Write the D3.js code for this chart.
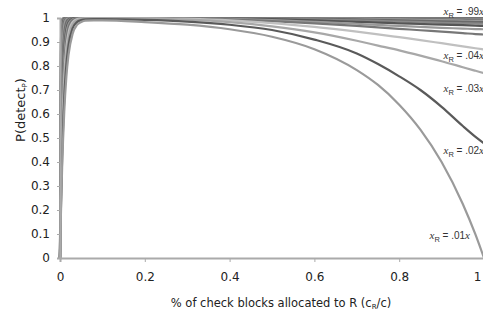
<!doctype html>
<html lang='en'>
<head>
<meta charset='utf-8'>
<title>P(detect) vs check block allocation</title>
<script src='https://cdn.jsdelivr.net/npm/d3@7'></script>
<style>
    body { margin: 0; background: white; }
    .tick text { font-family: 'DejaVu Sans', Verdana, sans-serif; font-size: 12px; fill: #222; }
    .axis path, .axis line { stroke: #aaa; }
    .title { font-family: 'DejaVu Sans', Verdana, sans-serif; font-size: 11.5px; fill: #222; }
    .lbl { font-size: 10px; fill: #333; }
    .curve { fill: none; stroke-width: 2.2; }
</style>
</head>
<body>
<svg id='chart' width='483' height='320'></svg>
<script>
// fraction of check blocks given to R (shared x grid for every curve)
const shareR = [0, 0.002, 0.005, 0.01, 0.015, 0.02, 0.03, 0.04, 0.05, 0.06, 0.08, 0.1,
    0.2, 0.3, 0.4, 0.5, 0.6, 0.7, 0.75, 0.8, 0.85, 0.9, 0.95, 0.98, 1];

// one series per x_R value
const xr01 = [0, 0.172, 0.376, 0.609, 0.754, 0.845, 0.936, 0.971, 0.983, 0.989, 0.990, 0.990,
    0.983, 0.972, 0.953, 0.922, 0.870, 0.783, 0.721, 0.639, 0.535, 0.400, 0.225, 0.097, 0];
const xr02 = [0, 0.196, 0.421, 0.664, 0.804, 0.885, 0.958, 0.983, 0.991, 0.994, 0.995, 0.995,
    0.992, 0.985, 0.972, 0.950, 0.910, 0.852, 0.808, 0.757, 0.700, 0.630, 0.550, 0.505, 0.478];
const xr03 = [0, 0.221, 0.464, 0.712, 0.845, 0.916, 0.974, 0.991, 0.996, 0.998, 0.998, 0.998,
    0.997, 0.993, 0.983, 0.965, 0.940, 0.905, 0.885, 0.865, 0.843, 0.820, 0.795, 0.780, 0.770];
const xr04 = [0, 0.244, 0.503, 0.753, 0.877, 0.938, 0.984, 0.995, 0.998, 0.999, 0.999, 0.999,
    0.999, 0.996, 0.990, 0.979, 0.963, 0.943, 0.932, 0.920, 0.908, 0.895, 0.882, 0.874, 0.869];
const xr05 = [0, 0.274, 0.551, 0.798, 0.909, 0.959, 0.992, 0.998, 1, 1, 1, 1,
    1, 0.998, 0.994, 0.987, 0.978, 0.967, 0.961, 0.955, 0.949, 0.943, 0.937, 0.933, 0.931];
const xr06 = [0, 0.302, 0.593, 0.835, 0.933, 0.973, 0.995, 0.999, 1, 1, 1, 1,
    1, 0.999, 0.996, 0.991, 0.984, 0.976, 0.971, 0.967, 0.963, 0.959, 0.956, 0.954, 0.953];
const xr07 = [0, 0.330, 0.632, 0.865, 0.950, 0.982, 0.998, 1, 1, 1, 1, 1,
    1, 1, 0.998, 0.995, 0.990, 0.984, 0.981, 0.978, 0.975, 0.972, 0.970, 0.968, 0.967];
const xr08 = [0, 0.369, 0.683, 0.900, 0.968, 0.990, 0.999, 1, 1, 1, 1, 1,
    1, 1, 0.999, 0.997, 0.994, 0.990, 0.988, 0.985, 0.983, 0.980, 0.978, 0.977, 0.976];
const xr10 = [0, 0.417, 0.741, 0.933, 0.983, 0.995, 1, 1, 1, 1, 1, 1,
    1, 1, 1, 0.999, 0.997, 0.994, 0.992, 0.990, 0.988, 0.986, 0.984, 0.983, 0.983];
const xr15 = [0, 0.503, 0.826, 0.970, 0.995, 0.999, 1, 1, 1, 1, 1, 1,
    1, 1, 1, 1, 0.999, 0.997, 0.995, 0.994, 0.992, 0.991, 0.989, 0.988, 0.988];
const xr20 = [0, 0.568, 0.878, 0.985, 0.998, 1, 1, 1, 1, 1, 1, 1,
    1, 1, 1, 1, 1, 0.999, 0.997, 0.996, 0.995, 0.994, 0.993, 0.992, 0.992];
const xr30 = [0, 0.647, 0.926, 0.994, 1, 1, 1, 1, 1, 1, 1, 1,
    1, 1, 1, 1, 1, 1, 0.999, 0.998, 0.998, 0.997, 0.996, 0.995, 0.995];
const xr50 = [0, 0.727, 0.961, 0.998, 1, 1, 1, 1, 1, 1, 1, 1,
    1, 1, 1, 1, 1, 1, 1, 0.999, 0.999, 0.999, 0.998, 0.998, 0.997];
const xr70 = [0, 0.798, 0.982, 1, 1, 1, 1, 1, 1, 1, 1, 1,
    1, 1, 1, 1, 1, 1, 1, 1, 1, 0.999, 0.999, 0.999, 0.998];
const xr90 = [0, 0.850, 0.991, 1, 1, 1, 1, 1, 1, 1, 1, 1,
    1, 1, 1, 1, 1, 1, 1, 1, 1, 1, 1, 0.999, 0.999];
const xr99 = [0, 0.889, 0.996, 1, 1, 1, 1, 1, 1, 1, 1, 1,
    1, 1, 1, 1, 1, 1, 1, 1, 1, 1, 1, 1, 1];

const seriesNames = ['.99', '.9', '.7', '.5', '.3', '.2', '.15', '.1', '.08', '.07', '.06', '.05', '.04', '.03', '.02', '.01'];
const seriesValues = [xr99, xr90, xr70, xr50, xr30, xr20, xr15, xr10, xr08, xr07, xr06, xr05, xr04, xr03, xr02, xr01];
const seriesGrays = ['#7a7a7a', '#6e6e6e', '#8a8a8a', '#606060', '#888', '#707070', '#999', '#6a6a6a',
    '#888', '#555', '#999', '#777', '#c0c0c0', '#a8a8a8', '#5a5a5a', '#9a9a9a'];

// curve labels, anchored in data units (right edge of text)
const labelNames = ['.99', '.04', '.03', '.02', '.01'];
const labelR = [1, 1, 1, 1, 0.967];
const labelP = [1.012, 0.829, 0.692, 0.433, 0.079];

const yTicks = [0, 0.1, 0.2, 0.3, 0.4, 0.5, 0.6, 0.7, 0.8, 0.9, 1];
const xTicks = [0, 0.2, 0.4, 0.6, 0.8, 1];

const svg = d3.select('#chart');
const margin = {left: 60, top: 18, right: -1, bottom: 62};
const width = 483, height = 320;

const x = d3.scaleLinear().domain([0, 1]).range([margin.left, width - margin.right]);
const y = d3.scaleLinear().domain([0, 1]).range([height - margin.bottom, margin.top]);

// axes
const yAxis = svg.append('g')
    .attr('class', 'axis')
    .attr('transform', `translate(${x(0)},0)`)
    .call(d3.axisLeft(y).tickValues(yTicks).tickFormat(d3.format('')).tickSize(3).tickPadding(7));
const xAxis = svg.append('g')
    .attr('class', 'axis')
    .attr('transform', `translate(0,${y(0)})`)
    .call(d3.axisBottom(x).tickValues(xTicks).tickFormat(d3.format('')).tickSize(4).tickPadding(10));
svg.selectAll('.axis .domain').attr('stroke-width', 2).attr('stroke', '#aaa');
svg.selectAll('.axis .tick line').attr('stroke', '#ccc');
// last x label sits on the page edge; pull it in so it stays readable
xAxis.selectAll('.tick text').filter(d => d === 1).attr('text-anchor', 'end').attr('dx', -3);

// curves
const line = d3.line()
    .x((d, i) => x(shareR[i]))
    .y(d => y(d))
    .curve(d3.curveMonotoneX);

svg.append('g')
    .selectAll('path')
    .data(seriesValues)
    .enter()
    .append('path')
    .attr('class', 'curve')
    .attr('stroke', (d, i) => seriesGrays[i])
    .attr('d', line);

// redraw the axis lines over the curves
yAxis.raise();
xAxis.raise();

// labels "x_R = .0Nx"
const labels = svg.append('g')
    .selectAll('text')
    .data(labelNames)
    .enter()
    .append('text')
    .attr('class', 'lbl')
    .attr('text-anchor', 'end')
    .attr('x', (d, i) => x(labelR[i]))
    .attr('y', (d, i) => y(labelP[i]));
labels.append('tspan').attr('font-family', 'Liberation Serif, serif').attr('font-style', 'italic').attr('font-size', 11).text('x');
labels.append('tspan').attr('font-family', 'Liberation Sans, sans-serif').attr('font-size', 7.5).attr('dy', 3).text('R');
labels.append('tspan').attr('font-family', 'Liberation Sans, sans-serif').attr('dy', -3).text(d => ' = ' + d);
labels.append('tspan').attr('font-family', 'Liberation Serif, serif').attr('font-style', 'italic').attr('font-size', 11).text('x');

// axis titles
const xt = svg.append('text')
    .attr('class', 'title')
    .attr('text-anchor', 'middle')
    .attr('x', 281)
    .attr('y', 307);
xt.append('tspan').text('% of check blocks allocated to R (c');
xt.append('tspan').attr('font-size', 7).attr('dy', 2).text('R');
xt.append('tspan').attr('dy', -2).text('/c)');

const yt = svg.append('text')
    .attr('class', 'title')
    .attr('text-anchor', 'middle')
    .attr('transform', 'translate(25,110) rotate(-90)')
    .style('font-size', '13px');
yt.append('tspan').text('P(detect');
yt.append('tspan').attr('font-size', 7).attr('dy', 2).text('P');
yt.append('tspan').attr('dy', -2).text(')');
</script>
</body>
</html>
